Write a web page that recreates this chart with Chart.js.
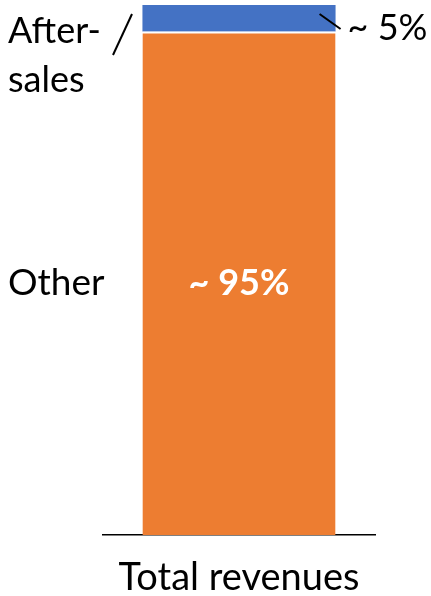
<!DOCTYPE html>
<html>
<head>
<meta charset="utf-8">
<script src="https://cdn.jsdelivr.net/npm/chart.js@4.4.1/dist/chart.umd.min.js"></script>
<style>
  html, body { margin: 0; padding: 0; background: #fff; }
  #wrap { width: 431px; height: 596px; }
</style>
</head>
<body>
<div id="wrap"><canvas id="c" width="431" height="596"></canvas></div>
<script>
// Revenue split of a single stacked column
const categories = ['Total revenues'];
const segmentNames = ['Other', 'After-sales'];
const otherShare = [95];
const afterSalesShare = [5];
const valueLabels = ['~ 95%', '~ 5%'];
const sideLabels = [['Other'], ['After-', 'sales']];

const FONT = 'Lato, "Open Sans", sans-serif';

// Draws the value labels, the side captions and the two small leader strokes
const annotate = {
  id: 'annotate',
  afterDatasetsDraw(chart) {
    const ctx = chart.ctx;
    const area = chart.chartArea;
    const other = chart.getDatasetMeta(0).data[0];
    const after = chart.getDatasetMeta(1).data[0];
    ctx.save();

    // value inside the big segment
    const midOther = (other.y + other.base) / 2;
    ctx.fillStyle = '#ffffff';
    ctx.font = 'bold 36px ' + FONT;
    ctx.textAlign = 'center';
    ctx.textBaseline = 'middle';
    ctx.fillText(valueLabels[0], other.x, midOther);

    // side caption for the big segment
    ctx.fillStyle = '#000000';
    ctx.font = '37px ' + FONT;
    ctx.textAlign = 'left';
    ctx.fillText(sideLabels[0][0], 8, midOther);

    // two-line caption for the small segment
    ctx.font = '36px ' + FONT;
    ctx.textBaseline = 'alphabetic';
    ctx.fillText(sideLabels[1][0], 8, area.top + 38);
    ctx.fillText(sideLabels[1][1], 8, area.top + 87);

    // slash next to the caption
    ctx.strokeStyle = '#000000';
    ctx.lineWidth = 2;
    ctx.beginPath();
    ctx.moveTo(113, area.top + 50);
    ctx.lineTo(132, area.top + 9);
    ctx.stroke();

    // leader from the small segment to its value
    const right = after.x + after.width / 2;
    ctx.beginPath();
    ctx.moveTo(right - 16, after.y + 9);
    ctx.lineTo(right + 5, after.y + 24);
    ctx.stroke();

    ctx.font = '36px ' + FONT;
    ctx.fillText(valueLabels[1], right + 12, area.top + 35);
    ctx.restore();
  }
};

new Chart(document.getElementById('c'), {
  type: 'bar',
  data: {
    labels: categories,
    datasets: [
      {
        label: segmentNames[0],
        data: otherShare,
        backgroundColor: '#ED7D31',
        borderColor: '#ffffff',
        borderWidth: { top: 2, left: 0, right: 0, bottom: 0 },
        borderSkipped: false,
        barPercentage: 0.71,
        categoryPercentage: 1
      },
      {
        label: segmentNames[1],
        data: afterSalesShare,
        backgroundColor: '#4472C4',
        borderWidth: 0,
        barPercentage: 0.71,
        categoryPercentage: 1
      }
    ]
  },
  options: {
    responsive: false,
    animation: false,
    devicePixelRatio: 1,
    layout: { padding: { left: 103, right: 56, top: 5, bottom: 2 } },
    plugins: { legend: { display: false }, tooltip: { enabled: false } },
    scales: {
      x: {
        stacked: true,
        grid: { display: false, drawTicks: false },
        border: { display: true, color: '#000000', width: 1.5 },
        ticks: { color: '#000000', font: { family: FONT, size: 38 }, padding: 20 },
        afterFit(scale) { scale.height = 59; }
      },
      y: {
        stacked: true,
        display: false,
        min: 0,
        max: 100
      }
    }
  },
  plugins: [annotate]
});
</script>
</body>
</html>
